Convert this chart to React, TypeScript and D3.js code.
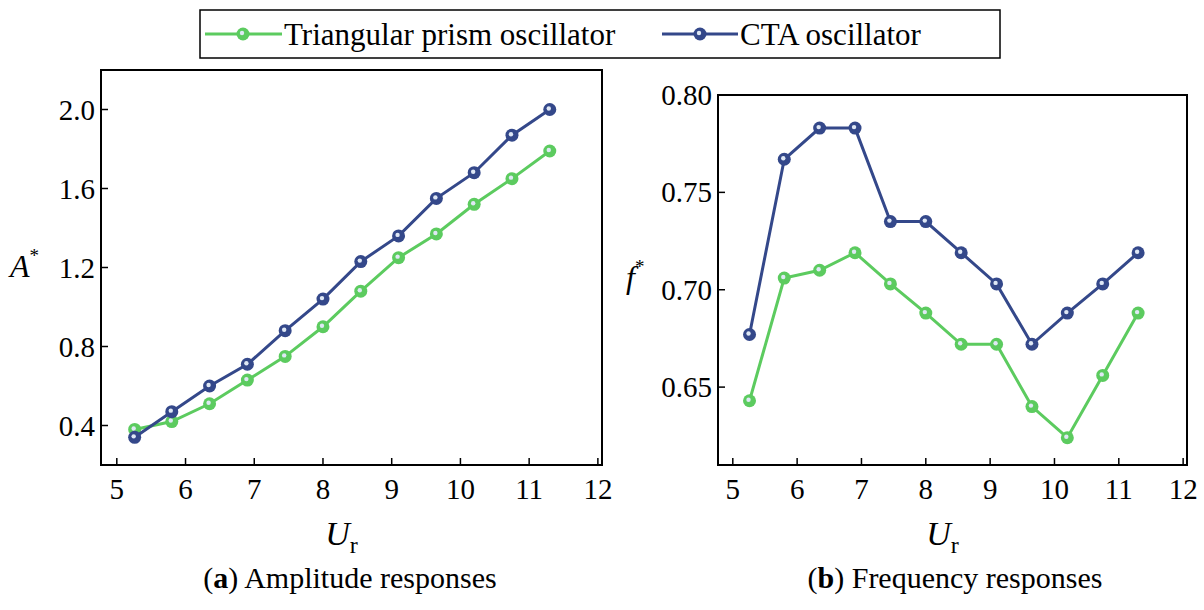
import React from "react";
import * as d3 from "d3";

const ur = [5.26, 5.8, 6.35, 6.9, 7.45, 8.0, 8.55, 9.1, 9.65, 10.2, 10.75, 11.3];
const ampPrism = [0.38, 0.42, 0.51, 0.63, 0.75, 0.9, 1.08, 1.25, 1.37, 1.52, 1.65, 1.79];
const ampCta = [0.34, 0.47, 0.6, 0.71, 0.88, 1.04, 1.23, 1.36, 1.55, 1.68, 1.87, 2.0];
const freqPrism = [0.643, 0.706, 0.71, 0.719, 0.703, 0.688, 0.672, 0.672, 0.64, 0.624, 0.656, 0.688];
const freqCta = [0.677, 0.767, 0.783, 0.783, 0.735, 0.735, 0.719, 0.703, 0.672, 0.688, 0.703, 0.719];
const xTicks = [5, 6, 7, 8, 9, 10, 11, 12];
const ampTicks = [0.4, 0.8, 1.2, 1.6, 2.0];
const freqTicks = [0.65, 0.7, 0.75, 0.8];

const GREEN = "#5ccb5f";
const BLUE = "#34488a";
const FONT = "'Liberation Serif', 'DejaVu Serif', serif";

function Marker({ x, y, color }: { x: number; y: number; color: string }) {
  return (
    <g>
      <circle cx={x} cy={y} r={6.5} fill={color} />
      <circle cx={x - 1} cy={y - 1} r={2.2} fill="#dfe8f5" />
    </g>
  );
}

function Panel({
  left, right, top, bottom, yDomain, yTicks, fmt, series, ylab, caption,
}: {
  left: number; right: number; top: number; bottom: number;
  yDomain: [number, number]; yTicks: number[]; fmt: (v: number) => string;
  series: { vals: number[]; color: string }[]; ylab: React.ReactNode; caption: React.ReactNode;
}) {
  const x = d3.scaleLinear().domain([4.77, 12.06]).range([left, right]);
  const y = d3.scaleLinear().domain(yDomain).range([bottom, top]);
  const line = d3.line<number>().x((_, i) => x(ur[i])).y((d) => y(d));
  return (
    <g fontFamily={FONT}>
      <rect x={left} y={top} width={right - left} height={bottom - top} fill="none" stroke="#000" strokeWidth={2} />
      {xTicks.map((t) => (
        <g key={t}>
          <line x1={x(t)} x2={x(t)} y1={bottom} y2={bottom - 7} stroke="#000" strokeWidth={1.5} />
          <text x={x(t)} y={bottom + 34} textAnchor="middle" fontSize={29}>{t}</text>
        </g>
      ))}
      {yTicks.map((t) => (
        <g key={t}>
          <line x1={left} x2={left + 7} y1={y(t)} y2={y(t)} stroke="#000" strokeWidth={1.5} />
          <text x={left - 6} y={y(t) + 10} textAnchor="end" fontSize={29}>{fmt(t)}</text>
        </g>
      ))}
      {series.map((s, k) => (
        <g key={k}>
          <path d={line(s.vals) || ""} fill="none" stroke={s.color} strokeWidth={3} />
          {s.vals.map((v, i) => <Marker key={i} x={x(ur[i])} y={y(v)} color={s.color} />)}
        </g>
      ))}
      {ylab}
      <text x={(left + right) / 2 - 10} y={bottom + 80} textAnchor="middle" fontSize={34} fontStyle="italic">
        U<tspan fontStyle="normal" fontSize={24} dy={8}>r</tspan>
      </text>
      {caption}
    </g>
  );
}

export default function App() {
  return (
    <svg width={1204} height={610} style={{ position: "absolute", left: 0, top: 0, background: "#fff" }}>
      <g fontFamily={FONT}>
        <rect x={200} y={10} width={800} height={48} fill="none" stroke="#000" strokeWidth={1.5} />
        <line x1={205} x2={282} y1={34} y2={34} stroke={GREEN} strokeWidth={3} />
        <Marker x={243} y={34} color={GREEN} />
        <text x={284} y={45} fontSize={31}>Triangular prism oscillator</text>
        <line x1={662} x2={738} y1={34} y2={34} stroke={BLUE} strokeWidth={3} />
        <Marker x={700} y={34} color={BLUE} />
        <text x={740} y={45} fontSize={31}>CTA oscillator</text>
      </g>
      <Panel
        left={101} right={602} top={70} bottom={465}
        yDomain={[0.2, 2.2]} yTicks={ampTicks} fmt={(v) => v.toFixed(1)}
        series={[{ vals: ampPrism, color: GREEN }, { vals: ampCta, color: BLUE }]}
        ylab={<text x={10} y={277} fontSize={32} fontStyle="italic">A<tspan fontSize={19} fontStyle="normal" dy={-15}>*</tspan></text>}
        caption={<text x={350} y={588} textAnchor="middle" fontSize={30}>(<tspan fontWeight="bold">a</tspan>) Amplitude responses</text>}
      />
      <Panel
        left={718} right={1187} top={95} bottom={465}
        yDomain={[0.61, 0.8]} yTicks={freqTicks} fmt={(v) => v.toFixed(2)}
        series={[{ vals: freqPrism, color: GREEN }, { vals: freqCta, color: BLUE }]}
        ylab={<text x={626} y={288} fontSize={32} fontStyle="italic">f<tspan fontSize={19} fontStyle="normal" dy={-15}>*</tspan></text>}
        caption={<text x={955} y={588} textAnchor="middle" fontSize={30}>(<tspan fontWeight="bold">b</tspan>) Frequency responses</text>}
      />
    </svg>
  );
}
